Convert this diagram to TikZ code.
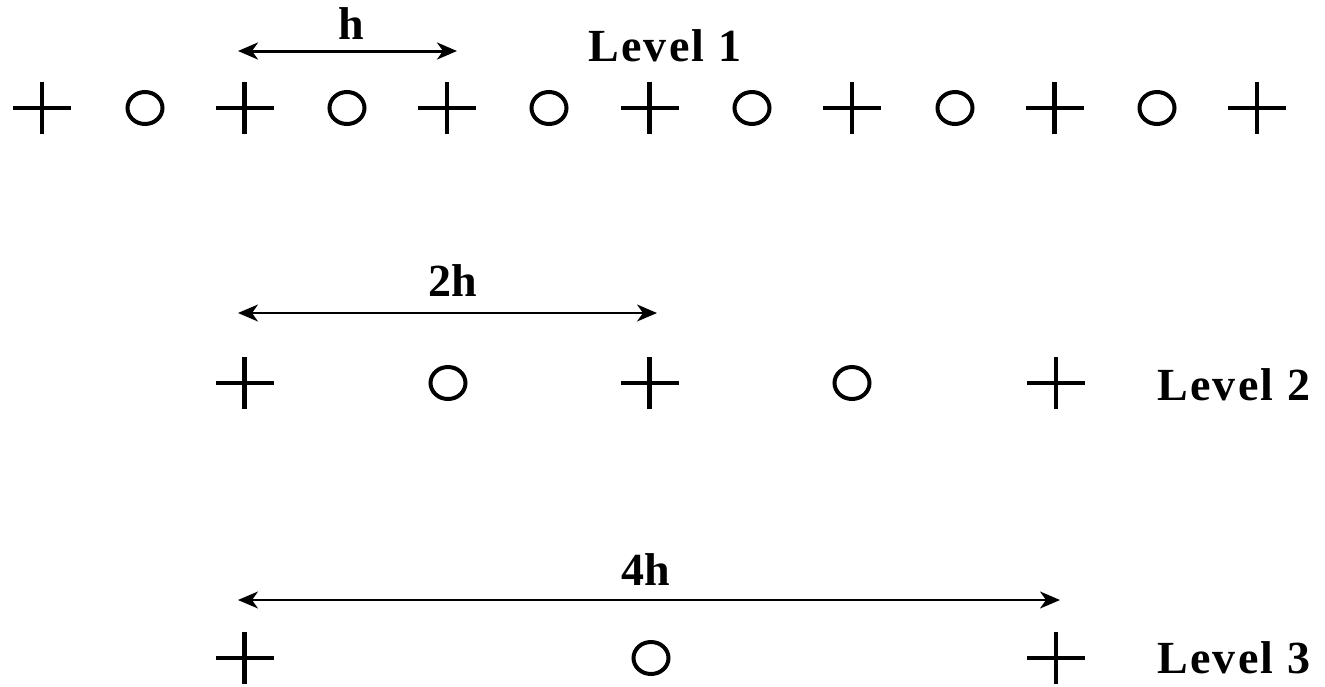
\documentclass[tikz,border=0pt]{standalone}
\usepackage{fontspec}
\setmainfont{Liberation Serif}
\usetikzlibrary{arrows.meta,shapes.geometric}
\tikzset{
  plusmark/.pic={\draw[line width=4.5pt] (-29,0)--(29,0) (0,-26)--(0,26);},
  circmark/.style={draw, ellipse, line width=4pt, minimum width=35pt, minimum height=32pt, inner sep=0pt},
  dimarrow/.style={{Stealth[length=20pt,width=17pt,inset=6pt]}-{Stealth[length=20pt,width=17pt,inset=6pt]}},
  lbl/.style={font=\fontsize{46}{50}\selectfont\bfseries, inner sep=0pt, anchor=base},
  lvl/.style={font=\fontsize{46}{50}\selectfont\bfseries\addfontfeature{LetterSpace=5}, inner sep=0pt, anchor=base west}
}
\begin{document}
\begin{tikzpicture}[x=1pt,y=-1pt]
\useasboundingbox (0,0) rectangle (1325,686);
% Level 1
\foreach \i/\x in {1/42,2/244.5,3/447,4/649.5,5/852,6/1054.5,7/1257}{
  \coordinate (a\i) at (\x,108);
  \pic at (a\i) {plusmark};
}
\foreach \i/\x in {1/145,2/347,3/549,4/752,5/955,6/1157}{
  \node[circmark] (o\i) at (\x,108) {};
}
\coordinate (h1) at (238,51);
\coordinate (h2) at (457,51);
\draw[dimarrow, line width=3pt] (h1) -- (h2);
\node[lbl] (hl) at (351,39) {h};
\node[lvl] (l1) at (588,61) {Level 1};
% Level 2
\foreach \i/\x in {1/244.5,2/649.5,3/1056}{
  \coordinate (b\i) at (\x,383);
  \pic at (b\i) {plusmark};
}
\node[circmark] (q1) at (448,383) {};
\node[circmark] (q2) at (852,383) {};
\coordinate (d1) at (238,313);
\coordinate (d2) at (657,313);
\draw[dimarrow, line width=2pt] (d1) -- (d2);
\node[lbl] (dl) at (453,296) {2h};
\node[lvl] (l2) at (1157,400) {Level 2};
% Level 3
\coordinate (c1) at (244.5,658);
\coordinate (c2) at (1056,658);
\pic at (c1) {plusmark};
\pic at (c2) {plusmark};
\node[circmark] (r1) at (651,658) {};
\coordinate (e1) at (238,600);
\coordinate (e2) at (1060,600);
\draw[dimarrow, line width=2pt] (e1) -- (e2);
\node[lbl] (el) at (646,585) {4h};
\node[lvl] (l3) at (1157,673) {Level 3};
\end{tikzpicture}
\end{document}
